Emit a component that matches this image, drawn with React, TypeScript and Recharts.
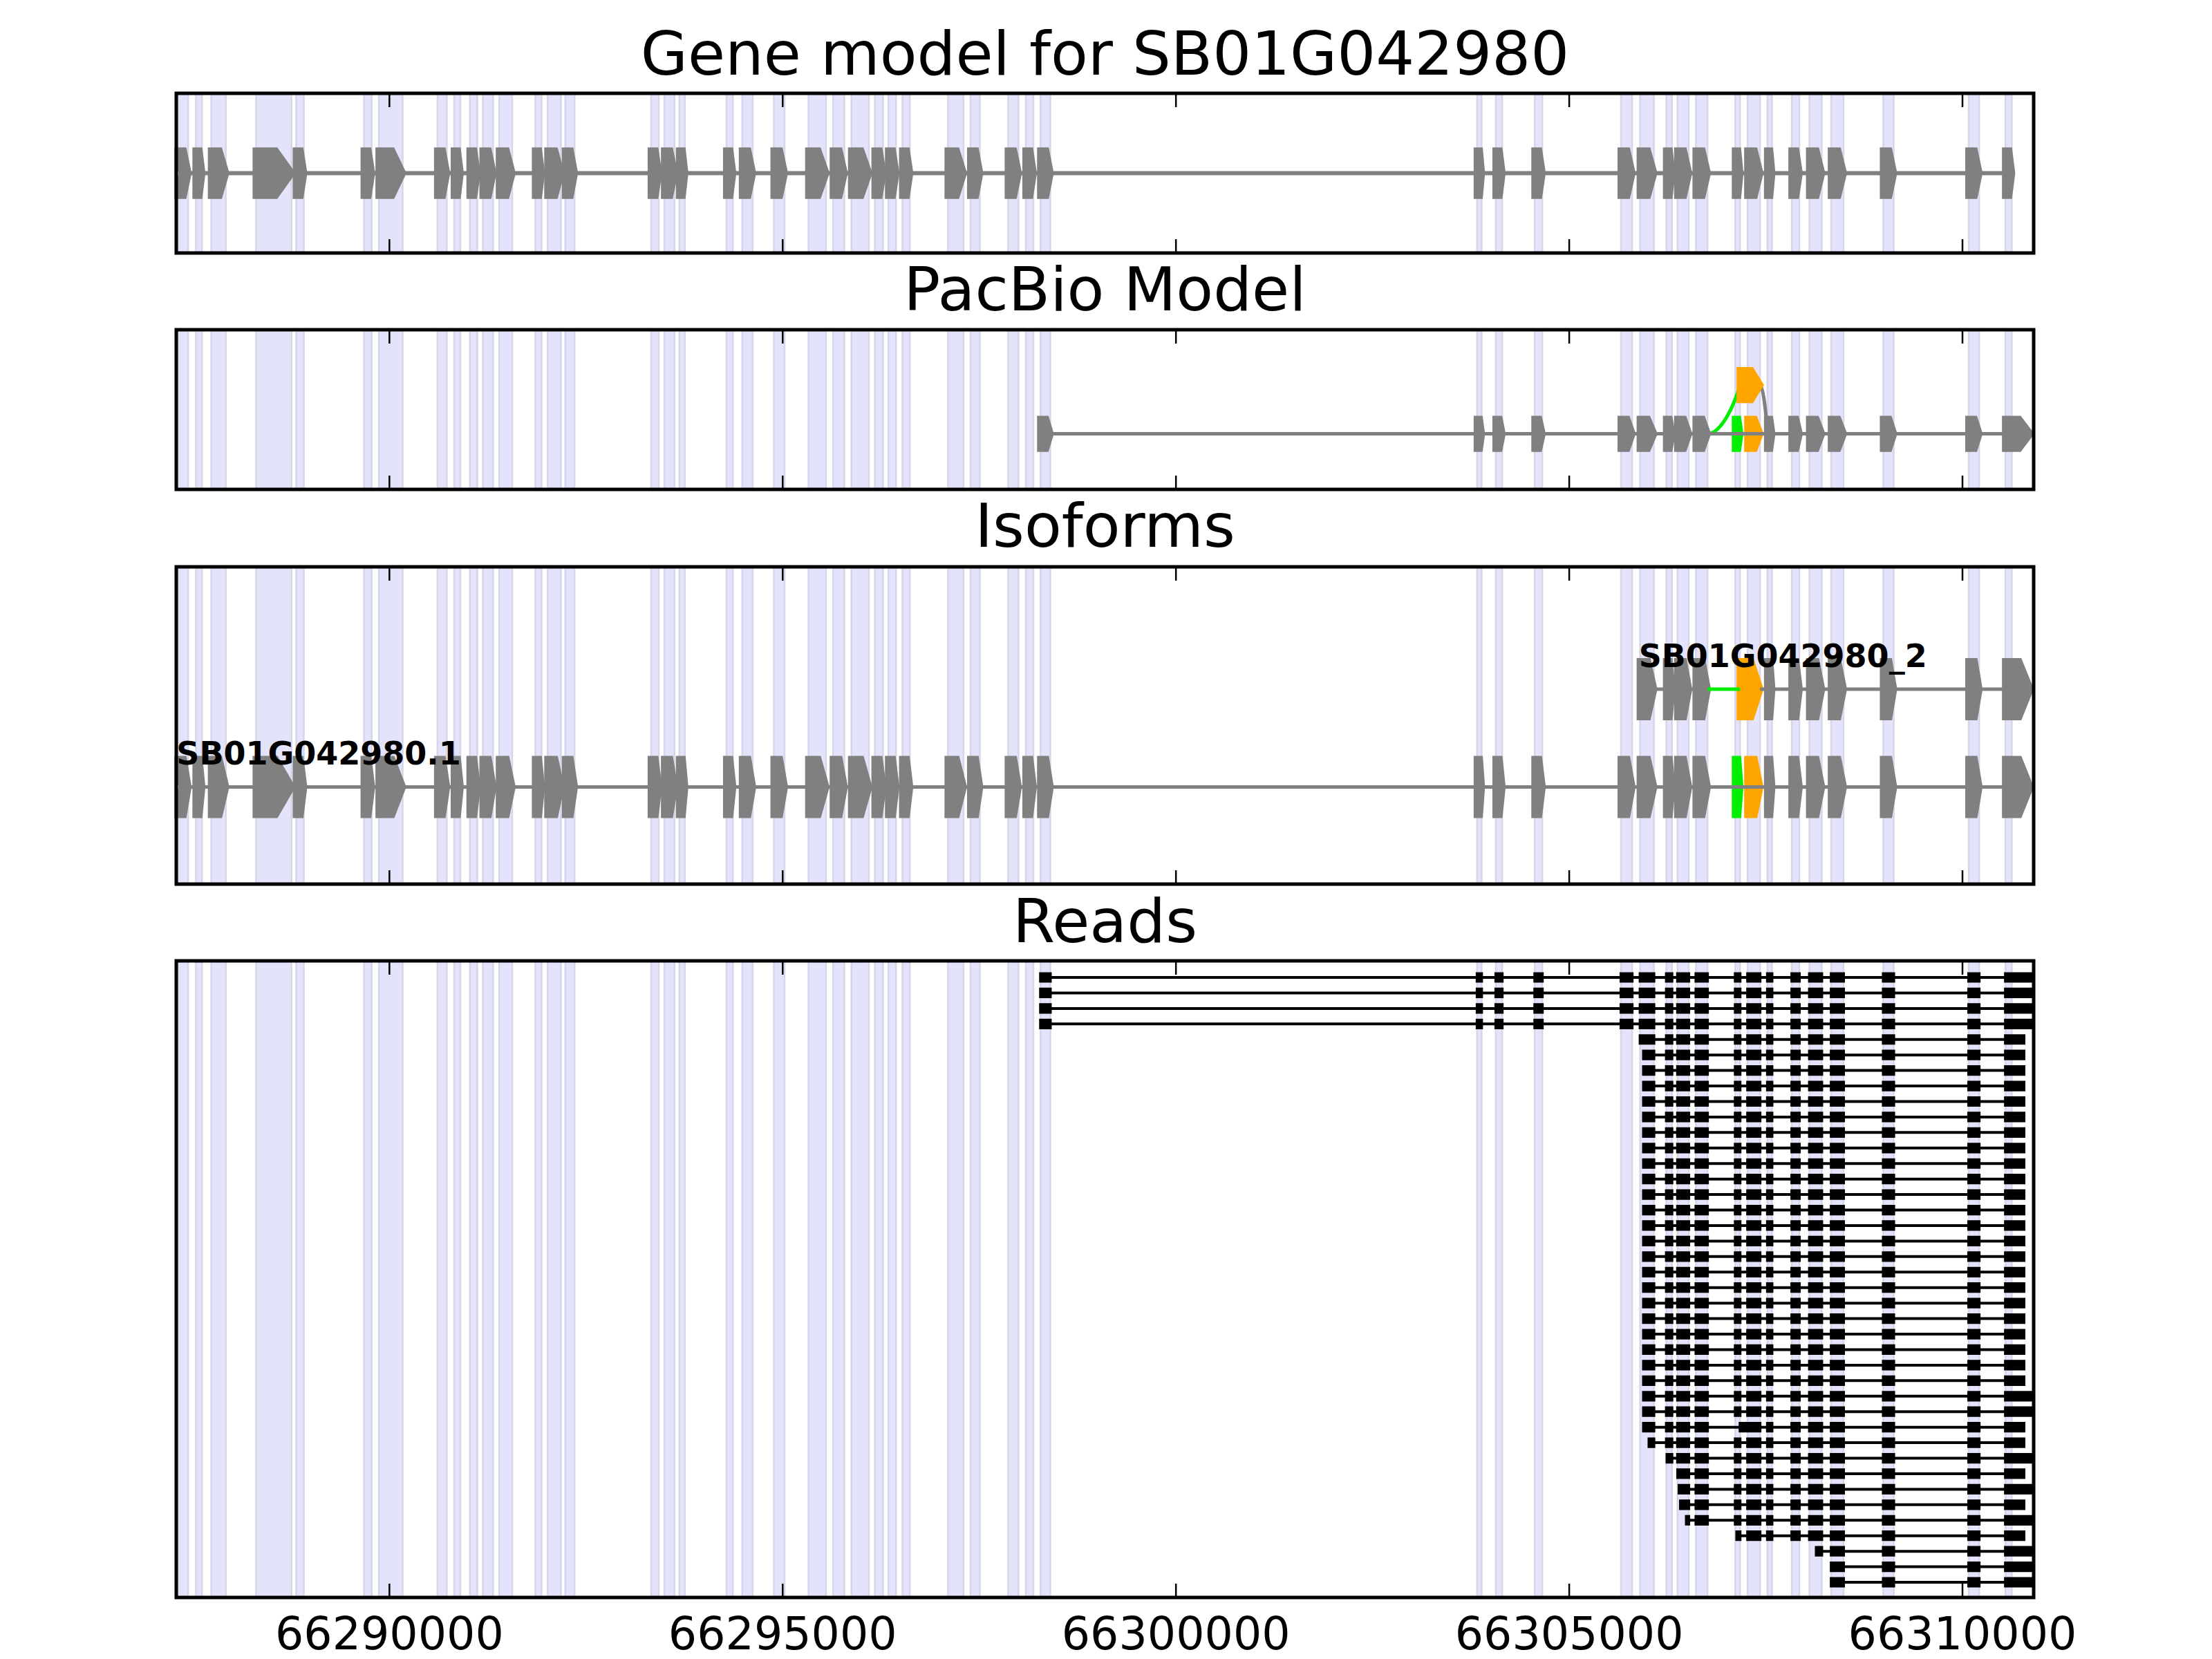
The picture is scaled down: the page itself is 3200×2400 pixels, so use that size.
import React from "react";
import { ComposedChart, XAxis, YAxis, ReferenceArea, ReferenceLine, Line } from "recharts";

// genomic window and ticks
const X_MIN = 66287290;
const X_MAX = 66310905;
const xTicks = [66290000, 66295000, 66300000, 66305000, 66310000];

// gene model exons (SB01G042980)
const exonStarts = [
  66287310, 66287539, 66287735, 66288304, 66288814, 66289677, 66289866, 66290611, 66290823, 66291023,
  66291188, 66291396, 66291855, 66292012, 66292236, 66293327, 66293496, 66293686, 66294285, 66294486,
  66294888, 66295329, 66295641, 66295874, 66296172, 66296344, 66296523, 66297101, 66297388, 66297866,
  66298091, 66298278, 66303829, 66304067, 66304562, 66305658, 66305901, 66306235, 66306377, 66306611,
  66307111, 66307268, 66307520, 66307830, 66308054, 66308331, 66308993, 66310079, 66310546,
];
const exonEnds = [
  66287441, 66287617, 66287920, 66288755, 66288912, 66289775, 66290168, 66290729, 66290902, 66291117,
  66291318, 66291561, 66291934, 66292181, 66292354, 66293424, 66293625, 66293757, 66294367, 66294619,
  66295024, 66295551, 66295784, 66296096, 66296276, 66296441, 66296617, 66297299, 66297507, 66297998,
  66298188, 66298403, 66303886, 66304148, 66304658, 66305800, 66306077, 66306306, 66306520, 66306758,
  66307172, 66307426, 66307578, 66307926, 66308211, 66308488, 66309126, 66310212, 66310627,
];

// alternative exon (PacBio / isoform _2) and the longer final exon
const altExon = [66307172, 66307426];
const isoformLastEnd = 66310860;
const isoformNames = ["SB01G042980.1", "SB01G042980_2"];
const isoformStarts = [66287310, 66305901];

// reads, top to bottom
const readStarts = [
  66298278, 66298278, 66298278, 66298278, 66305901, 66305944, 66305944, 66305944, 66305944, 66305944,
  66305944, 66305944, 66305944, 66305944, 66305944, 66305944, 66305944, 66305944, 66305944, 66305944,
  66305944, 66305944, 66305944, 66305944, 66305944, 66305944, 66305944, 66305944, 66305944, 66305944,
  66306014, 66306243, 66306379, 66306396, 66306414, 66306489, 66307130, 66308141, 66308331, 66308331,
];
const readEnds = [
  66310874, 66310874, 66310874, 66310874, 66310782, 66310782, 66310782, 66310782, 66310782, 66310782,
  66310782, 66310782, 66310782, 66310782, 66310782, 66310782, 66310782, 66310782, 66310782, 66310782,
  66310782, 66310782, 66310782, 66310782, 66310782, 66310782, 66310782, 66310874, 66310874, 66310782,
  66310782, 66310874, 66310782, 66310874, 66310782, 66310874, 66310782, 66310874, 66310874, 66310874,
];
const altReadRows = [29];

const panelTitles = ["Gene model for SB01G042980", "PacBio Model", "Isoforms", "Reads"];

const GRAY = "#808080";
const ORANGE = "#ffa500";
const GREEN = "#00ee00";
const PLOT_LEFT = 255;
const PLOT_RIGHT = 2942;

const panels = [
  { top: 135, bottom: 366, y: [-1, 1], half: 0.28 },
  { top: 477, bottom: 708, y: [-1.14, 2.135], half: 0.3 },
  { top: 820, bottom: 1279, y: [-0.993, 2.251], half: 0.283 },
  { top: 1390, bottom: 2311, y: [-1.07, 39.98], half: 0.25 },
];
const titleBaselines = [108, 449, 791, 1363];

const exonColor = (i: number) => (i === 40 ? GREEN : i === 41 ? ORANGE : GRAY);

function arrowShape(color: string, sw = 10) {
  return (p: any) => {
    const x = p.x, w = p.width, y = p.y, h = p.height;
    const head = Math.min(w * 0.45, h * 0.8);
    const x2 = x + w;
    const pts = `${x},${y} ${x2 - head},${y} ${x2},${y + h / 2} ${x2 - head},${y + h} ${x},${y + h}`;
    return <polygon points={pts} fill={color} stroke={color} strokeWidth={sw} strokeLinejoin="miter" />;
  };
}

function curveShape(color: string, rising: boolean) {
  return (p: any) => {
    const x0 = p.x, x1 = p.x + p.width;
    const y0 = rising ? p.y + p.height : p.y;
    const y1 = rising ? p.y : p.y + p.height;
    const d = `M${x0},${y0} C${x0 + p.width * 0.45},${y0} ${x1 - p.width * 0.15},${y1 + (y0 - y1) * 0.35} ${x1},${y1}`;
    return <path d={d} fill="none" stroke={color} strokeWidth={5} />;
  };
}

const tickShape = (p: any) => {
  const top = Math.min(p.y1, p.y2);
  const bot = Math.max(p.y1, p.y2);
  return (
    <g>
      <line x1={p.x1} x2={p.x1} y1={top} y2={top + 20} stroke="#000" strokeWidth={2.5} />
      <line x1={p.x1} x2={p.x1} y1={bot - 20} y2={bot} stroke="#000" strokeWidth={2.5} />
    </g>
  );
};

function exon(key: string, a: number, b: number, row: number, half: number, color: string, sw = 10) {
  return (
    <ReferenceArea key={key} x1={a} x2={b} y1={row - half} y2={row + half} ifOverflow="visible" shape={arrowShape(color, sw)} />
  );
}

function intron(key: string, a: number, b: number, row: number, color: string, width = 6) {
  return (
    <ReferenceLine key={key} segment={[{ x: a, y: row }, { x: b, y: row }]} stroke={color} strokeWidth={width} ifOverflow="visible" />
  );
}

function readBlocks(i: number) {
  const s = readStarts[i];
  const e = readEnds[i];
  const alt = altReadRows.includes(i);
  const out: number[][] = [];
  for (let k = 31; k < exonStarts.length; k++) {
    if (alt && k === 40) continue;
    let a = exonStarts[k];
    let b = k === exonStarts.length - 1 ? e : exonEnds[k];
    if (alt && k === 41) {
      a = altExon[0];
      b = altExon[1];
    }
    if (b <= s || a >= e) continue;
    out.push([Math.max(a, s), Math.min(b, e)]);
  }
  return out;
}

function Panel({ idx, children, labels = false }: { idx: number; children: React.ReactNode; labels?: boolean }) {
  const pn = panels[idx];
  const axisH = labels ? 89 : 0;
  const bottomPad = labels ? 0 : 10;
  const height = pn.bottom - pn.top + 10 + bottomPad + axisH;
  // anchor points so the chart has data for its scales
  const anchor = [
    { x: X_MIN, y: pn.y[0] },
    { x: X_MAX, y: pn.y[1] },
  ];
  return (
    <div style={{ position: "absolute", left: 0, top: pn.top - 10 }}>
      <ComposedChart
        width={3200}
        height={height}
        data={anchor}
        margin={{ top: 10, right: 3200 - PLOT_RIGHT, bottom: bottomPad, left: PLOT_LEFT }}
      >
        <XAxis
          type="number"
          dataKey="x"
          domain={[X_MIN, X_MAX]}
          allowDataOverflow
          ticks={xTicks}
          interval={0}
          hide={!labels}
          height={axisH || 30}
          tickLine={false}
          axisLine={false}
          tickMargin={23}
          tick={{ fontSize: 65, fill: "#000" }}
        />
        <YAxis type="number" dataKey="y" domain={pn.y} allowDataOverflow reversed={idx === 3} hide />
        <Line dataKey="y" stroke="none" dot={false} activeDot={false} isAnimationActive={false} />
        {exonStarts.map((s, i) => (
          <ReferenceArea
            key={`band${i}`}
            x1={s}
            x2={exonEnds[i]}
            ifOverflow="visible"
            fill="#e3e3fb"
            fillOpacity={1}
            stroke="#d6d6e8"
            strokeWidth={2.5}
          />
        ))}
        {children}
        {xTicks.map((t) => (
          <ReferenceLine key={`tk${t}`} x={t} ifOverflow="visible" shape={tickShape} />
        ))}
        <ReferenceArea
          x1={X_MIN}
          x2={X_MAX}
          y1={pn.y[0]}
          y2={pn.y[1]}
          ifOverflow="visible"
          fill="none"
          fillOpacity={0}
          stroke="#000"
          strokeWidth={5}
        />
      </ComposedChart>
    </div>
  );
}

export default function App() {
  const last = exonStarts.length - 1;
  const p1 = panels[0], p2 = panels[1], p3 = panels[2], p4 = panels[3];
  const iso2 = [36, 37, 38, 39, -1, 42, 43, 44, 45, 46, 47, 48];

  return (
    <div style={{ position: "absolute", left: 0, top: 0, width: 3200, height: 2400, background: "#fff", fontFamily: "DejaVu Sans", overflow: "hidden" }}>
      <svg width={3200} height={2400} style={{ position: "absolute", left: 0, top: 0 }}>
        {panelTitles.map((t, i) => (
          <text key={t} x={(PLOT_LEFT + PLOT_RIGHT) / 2} y={titleBaselines[i]} textAnchor="middle" fontSize={88} fontFamily="DejaVu Sans" fill="#000">
            {t}
          </text>
        ))}
      </svg>

      {/* gene model */}
      <Panel idx={0}>
        {intron("gm-line", exonStarts[0], exonEnds[last], 0, GRAY)}
        {exonStarts.map((s, i) => exon(`gm${i}`, s, exonEnds[i], 0, p1.half, GRAY))}
      </Panel>

      {/* PacBio model */}
      <Panel idx={1}>
        {intron("pb-line", exonStarts[31], isoformLastEnd, 0, GRAY, 5)}
        <ReferenceArea x1={exonEnds[39]} x2={altExon[0]} y1={0} y2={1} ifOverflow="visible" shape={curveShape(GREEN, true)} />
        <ReferenceArea x1={altExon[1]} x2={exonStarts[42]} y1={0} y2={1} ifOverflow="visible" shape={curveShape(GRAY, false)} />
        {exonStarts.slice(31).map((s, j) => {
          const i = j + 31;
          return exon(`pb${i}`, s, i === last ? isoformLastEnd : exonEnds[i], 0, p2.half, exonColor(i));
        })}
        {exon("pb-alt", altExon[0], altExon[1], 1, p2.half, ORANGE)}
      </Panel>

      {/* isoforms */}
      <Panel idx={2}>
        {intron("iso1-line", exonStarts[0], isoformLastEnd, 0, GRAY, 5)}
        {exonStarts.map((s, i) => exon(`i1-${i}`, s, i === last ? isoformLastEnd : exonEnds[i], 0, p3.half, exonColor(i)))}
        {intron("iso2-a", exonStarts[36], exonEnds[39], 1, GRAY, 5)}
        {intron("iso2-b", exonEnds[39], altExon[0], 1, GREEN, 5)}
        {intron("iso2-c", altExon[1], isoformLastEnd, 1, GRAY, 5)}
        {iso2.map((i) =>
          i < 0
            ? exon("i2-alt", altExon[0], altExon[1], 1, p3.half, ORANGE)
            : exon(`i2-${i}`, exonStarts[i], i === last ? isoformLastEnd : exonEnds[i], 1, p3.half, GRAY)
        )}
        {isoformNames.map((n, r) => (
          <ReferenceLine
            key={n}
            segment={[{ x: isoformStarts[r], y: r }, { x: isoformLastEnd, y: r }]}
            ifOverflow="visible"
            shape={(p: any) => (
              <text x={Math.min(p.x1, p.x2) - 2} y={p.y1 - 32} fontSize={46} fontWeight="bold" fontFamily="DejaVu Sans" fill="#000">
                {n}
              </text>
            )}
          />
        ))}
      </Panel>

      {/* reads */}
      <Panel idx={3} labels>
        {readStarts.map((s, i) => intron(`rl${i}`, s, readEnds[i], i, "#000", 4))}
        {readStarts.map((_, i) =>
          readBlocks(i).map(([a, b], k) => (
            <ReferenceArea
              key={`rb${i}-${k}`}
              x1={a}
              x2={b}
              y1={i - p4.half}
              y2={i + p4.half}
              ifOverflow="visible"
              fill="#000"
              fillOpacity={1}
              stroke="#000"
              strokeWidth={4}
            />
          ))
        )}
      </Panel>
    </div>
  );
}
